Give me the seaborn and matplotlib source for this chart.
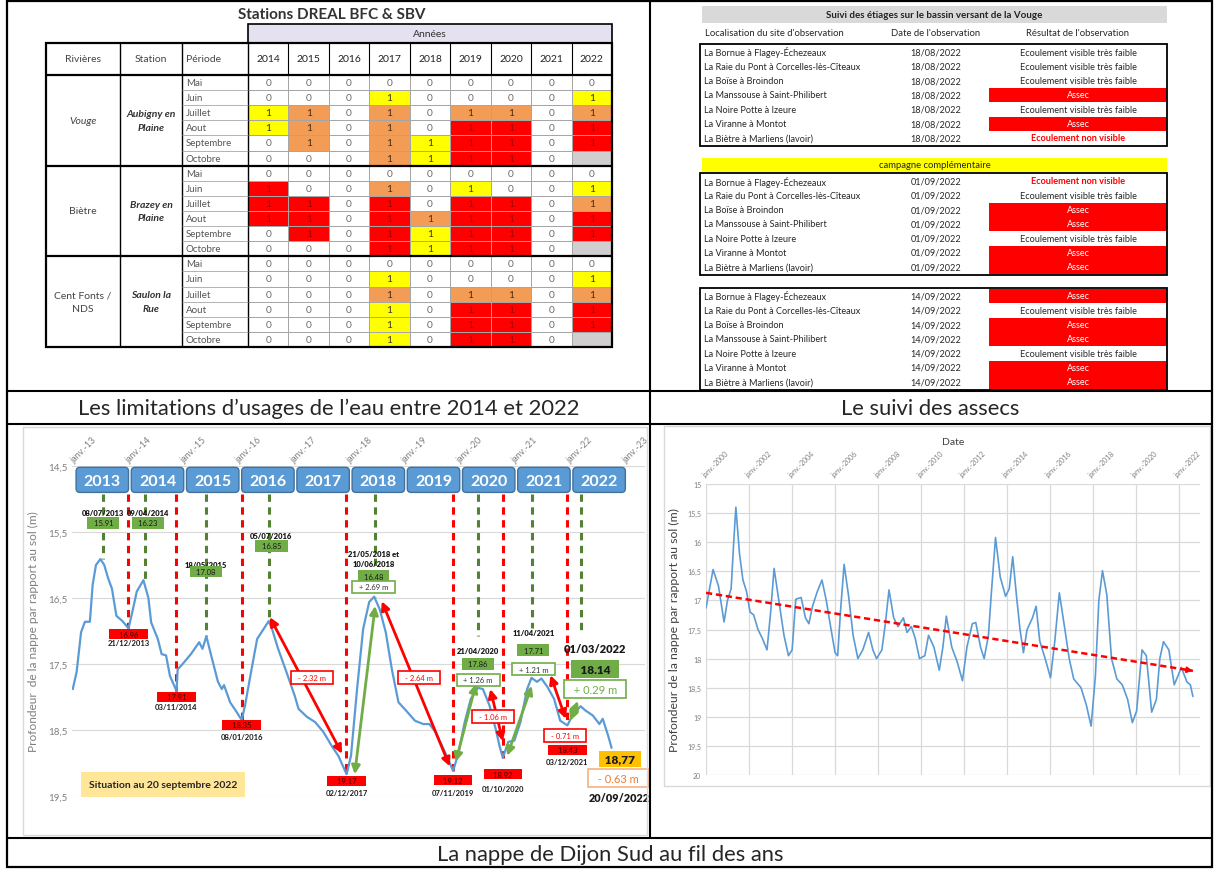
import numpy as np
import pandas as pd
import matplotlib
matplotlib.use("Agg")
import matplotlib.pyplot as plt
from matplotlib.colors import ListedColormap
from matplotlib.patches import Rectangle, FancyBboxPatch
import seaborn as sns

sns.set_style("white")
plt.rcParams["font.family"] = ["Lato", "DejaVu Sans"]

W, H = 1214, 870

# ---------------- tableau des limitations d'usage (haut gauche)
annees = [2014, 2015, 2016, 2017, 2018, 2019, 2020, 2021, 2022]
mois = ["Mai", "Juin", "Juillet", "Aout", "Septembre", "Octobre"]
rivieres = ["Vouge", "Biètre", "Cent Fonts /\nNDS"]
stations = ["Aubigny en\nPlaine", "Brazey en\nPlaine", "Saulon la\nRue"]
# 0 = pas de restriction, V = vigilance, A = alerte, C = crise, - = pas de donnée
niveaux_vouge = ["000000000", "000V0000V", "VA0A0AA0A", "VA0A0CC0C", "0A0AVCC0C", "000AVCC0-"]
niveaux_bietre = ["000000000", "C00A0V00V", "CC0C0CC0A", "CC0CACC0C", "0C0CVCC0C", "000CVCC0-"]
niveaux_centfonts = ["000000000", "000V0000V", "000A0AA0A", "000V0CC0C", "000V0CC0C", "000V0CC0-"]

# ---------------- suivi des assecs (haut droite)
sites = ["La Bornue à Flagey-Échezeaux", "La Raie du Pont à Corcelles-lès-Cîteaux",
         "La Boïse à Broindon", "La Manssouse à Saint-Philibert", "La Noire Potte à Izeure",
         "La Viranne à Montot", "La Biètre à Marliens (lavoir)"]
dates_campagnes = ["18/08/2022", "01/09/2022", "14/09/2022"]
# F = écoulement visible très faible, A = assec, N = écoulement non visible
resultats_1808 = ["F", "F", "F", "A", "F", "A", "N"]
resultats_0109 = ["N", "F", "A", "A", "F", "A", "A"]
resultats_1409 = ["A", "F", "A", "A", "F", "A", "A"]

# ---------------- nappe 2013-2022 (bas gauche), années décimales / profondeur (m)
nappe_annee = [2012.96, 2013.03, 2013.11, 2013.18, 2013.27, 2013.32, 2013.38, 2013.46, 2013.53,
               2013.6, 2013.67, 2013.75, 2013.86, 2013.97, 2014.05, 2014.12, 2014.24, 2014.33,
               2014.38, 2014.5, 2014.57, 2014.65, 2014.72, 2014.84, 2014.86, 2014.95, 2015.1,
               2015.25, 2015.31, 2015.38, 2015.47, 2015.59, 2015.66, 2015.7, 2015.81, 2015.93,
               2016.02, 2016.08, 2016.19, 2016.3, 2016.51, 2016.57, 2016.68, 2016.83, 2016.98,
               2017.05, 2017.2, 2017.35, 2017.5, 2017.65, 2017.77, 2017.92, 2018.0, 2018.11,
               2018.22, 2018.33, 2018.42, 2018.52, 2018.63, 2018.74, 2018.86, 2018.97, 2019.16,
               2019.31, 2019.42, 2019.53, 2019.65, 2019.76, 2019.85, 2019.95, 2020.06, 2020.17,
               2020.3, 2020.39, 2020.51, 2020.62, 2020.69, 2020.75, 2020.85, 2020.96, 2021.07,
               2021.19, 2021.27, 2021.37, 2021.45, 2021.56, 2021.68, 2021.79, 2021.92, 2022.01,
               2022.16, 2022.24, 2022.38, 2022.5, 2022.56, 2022.66, 2022.72]
nappe_prof = [17.88, 17.62, 17.02, 16.86, 16.86, 16.3, 16.0, 15.91, 16.0,
              16.2, 16.36, 16.77, 16.85, 16.96, 16.67, 16.4, 16.23, 16.5,
              16.87, 17.12, 17.35, 17.37, 17.68, 17.91, 17.58, 17.5, 17.35,
              17.17, 17.27, 17.08, 17.38, 17.77, 17.88, 17.82, 18.08, 18.23,
              18.35, 18.13, 17.62, 17.12, 16.85, 16.97, 17.27, 17.62, 17.98,
              18.18, 18.3, 18.38, 18.53, 18.74, 18.89, 19.17, 18.89, 17.88,
              16.97, 16.56, 16.48, 16.67, 17.02, 17.58, 18.08, 18.18, 18.36,
              18.41, 18.41, 18.53, 18.74, 18.94, 19.12, 18.84, 18.38, 18.03,
              17.86, 17.88, 18.13, 18.48, 18.74, 18.92, 18.68, 18.66, 18.38,
              17.88, 17.71, 17.77, 17.72, 17.85, 18.03, 18.36, 18.43, 18.28,
              18.14, 18.2, 18.28, 18.41, 18.33, 18.59, 18.77]

pics_dates = ["08/07/2013", "09/04/2014", "18/05/2015", "05/07/2016", "10/06/2018",
              "21/04/2020", "11/04/2021", "01/03/2022"]
pics_textes = ["08/07/2013", "09/04/2014", "18/05/2015", "05/07/2016", "21/05/2018 et\n10/06/2018",
               "21/04/2020", "11/04/2021", "01/03/2022"]
pics_vals = [15.91, 16.23, 17.08, 16.85, 16.48, 17.86, 17.71, 18.14]
creux_dates = ["21/12/2013", "03/11/2014", "08/01/2016", "02/12/2017", "07/11/2019",
               "01/10/2020", "03/12/2021"]
creux_vals = [16.96, 17.91, 18.35, 19.17, 19.12, 18.92, 18.43]
baisses = ["- 2.32 m", "- 2.64 m", "- 1.06 m", "- 0.71 m"]
hausses = ["+ 2.69 m", "+ 1.26 m", "+ 1.21 m", "+ 0.29 m"]
date_situation = "20/09/2022"
niveau_situation = "18,77"
ecart_situation = "- 0.63 m"

# ---------------- nappe 2000-2022 (bas droite)
suivi_annee = [2000.0, 2000.33, 2000.58, 2000.84, 2001.0, 2001.17, 2001.29, 2001.39, 2001.56,
               2001.72, 2001.89, 2002.05, 2002.22, 2002.42, 2002.62, 2002.84, 2003.01, 2003.17,
               2003.39, 2003.63, 2003.84, 2004.01, 2004.18, 2004.43, 2004.63, 2004.79, 2004.96,
               2005.18, 2005.4, 2005.6, 2005.8, 2006.01, 2006.13, 2006.26, 2006.43, 2006.63,
               2006.85, 2007.07, 2007.3, 2007.57, 2007.77, 2007.94, 2008.19, 2008.35, 2008.52,
               2008.74, 2008.94, 2009.19, 2009.36, 2009.56, 2009.74, 2009.94, 2010.19, 2010.36,
               2010.61, 2010.86, 2011.03, 2011.19, 2011.44, 2011.69, 2011.94, 2012.15, 2012.4,
               2012.56, 2012.78, 2012.95, 2013.15, 2013.28, 2013.48, 2013.7, 2013.95, 2014.12,
               2014.28, 2014.45, 2014.62, 2014.78, 2014.95, 2015.2, 2015.37, 2015.54, 2015.79,
               2016.04, 2016.24, 2016.45, 2016.71, 2016.91, 2017.12, 2017.46, 2017.71, 2017.93,
               2018.13, 2018.29, 2018.46, 2018.66, 2018.88, 2019.13, 2019.38, 2019.63, 2019.85,
               2020.05, 2020.3, 2020.5, 2020.75, 2020.97, 2021.13, 2021.3, 2021.55, 2021.8,
               2021.97, 2022.13, 2022.39, 2022.55, 2022.67]
suivi_prof = [17.13, 16.47, 16.75, 17.37, 17.0, 16.8, 16.0, 15.4, 16.2,
              16.65, 16.85, 17.2, 17.25, 17.5, 17.65, 17.85, 17.2, 16.45,
              17.0, 17.6, 17.95, 17.85, 16.98, 16.95, 17.3, 17.4, 17.1,
              16.85, 16.65, 17.0, 17.45, 17.9, 17.95, 17.2, 16.38, 16.9,
              17.6, 18.0, 17.85, 17.55, 17.85, 18.0, 17.85, 17.4, 16.82,
              17.3, 17.45, 17.3, 17.55, 17.45, 17.65, 18.0, 17.95, 17.6,
              17.8, 18.2, 17.8, 17.27, 17.8, 18.05, 18.38, 17.8, 17.4,
              17.38, 17.8, 18.0, 17.6, 16.9, 15.92, 16.6, 16.93, 16.8,
              16.25, 16.9, 17.5, 17.9, 17.5, 17.3, 17.1, 17.7, 18.0,
              18.33, 17.7, 16.87, 17.5, 18.0, 18.35, 18.5, 18.8, 19.16,
              18.3, 17.0, 16.49, 16.9, 18.0, 18.35, 18.45, 18.7, 19.1,
              18.9, 17.85, 17.95, 18.92, 18.7, 18.0, 17.71, 17.85, 18.45,
              18.3, 18.15, 18.4, 18.45, 18.65]
tendance_annee = [2000.0, 2022.67]
tendance_prof = [16.87, 18.21]


def annee_dec(s):
    d = pd.to_datetime(s, dayfirst=True)
    return d.year + (d.dayofyear - 1) / 365.25


def px_axes(x0, y0, x1, y1, **kw):
    return fig.add_axes([x0 / W, 1 - y1 / H, (x1 - x0) / W, (y1 - y0) / H], **kw)


fig = plt.figure(figsize=(W / 100, H / 100), dpi=100)

# ======================= heatmap des restrictions
codes = {"0": 0, "V": 1, "A": 2, "C": 3, "-": 4}
lignes = niveaux_vouge + niveaux_bietre + niveaux_centfonts
matrice = pd.DataFrame([[codes[c] for c in l] for l in lignes], columns=annees)
textes = np.array([["" if c == "-" else ("0" if c == "0" else "1") for c in l] for l in lignes])

x_tab0, x_sta, x_per, x_an, x_tab1 = 46, 120, 182, 248, 612
y_annees, y_entete, y_corps, y_fin = 25, 44, 76, 348
h_ligne = (y_fin - y_corps) / len(lignes)
l_col = (x_tab1 - x_an) / len(annees)

ax_hm = px_axes(x_an, y_corps, x_tab1, y_fin)
cmap = ListedColormap(["#FFFFFF", "#FFFF00", "#F39C56", "#FF0000", "#D0CECE"])
sns.heatmap(matrice, ax=ax_hm, cmap=cmap, vmin=-0.5, vmax=4.5, cbar=False,
            annot=textes, fmt="", linewidths=0.6, linecolor="#A6A6A6",
            annot_kws={"fontsize": 7.3})
ax_hm.set_xticks([])
ax_hm.set_yticks([])
ax_hm.set_xlabel("")
ax_hm.set_ylabel("")
couleurs_txt = {0: "#6b6b6b", 1: "#333333", 2: "#4a2a10", 3: "#A00000", 4: "#000000"}
for t, niv in zip(ax_hm.texts, matrice.values.ravel()):
    t.set_color(couleurs_txt[niv])

# ======================= nappe 2013-2022
ax_l = px_axes(72, 467, 645, 797)
sns.lineplot(x=nappe_annee, y=nappe_prof, ax=ax_l, color="#5B9BD5", lw=1.6,
             estimator=None, sort=False, zorder=3)
ax_l.set_xlim(2012.946, 2023.326)
ax_l.set_ylim(19.5, 14.5)
yt = [14.5, 15.5, 16.5, 17.5, 18.5, 19.5]
ax_l.set_yticks(yt)
ax_l.set_yticklabels([f"{v:.1f}".replace(".", ",") for v in yt])
ax_l.grid(axis="y", color="#D9D9D9", lw=0.8)
ax_l.set_axisbelow(True)
ax_l.xaxis.tick_top()
ans = list(range(2013, 2024))
ax_l.set_xticks(ans)
ax_l.set_xticklabels([f"janv.-{a % 100:02d}" for a in ans], rotation=45, ha="left",
                     rotation_mode="anchor", va="bottom")
ax_l.tick_params(axis="both", length=0, colors="#7F7F7F")
ax_l.tick_params(axis="x", labelsize=6.5, pad=1.5)
ax_l.tick_params(axis="y", labelsize=7)
for s in ax_l.spines.values():
    s.set_visible(False)
ax_l.set_ylabel("Profondeur  de la nappe par rapport au sol (m)", fontsize=8.6, color="#7F7F7F",
                labelpad=6)

# boîtes des années
asp = 55.2 / 66
for a in range(2013, 2023):
    ax_l.add_patch(FancyBboxPatch((a + 0.02, 14.52), 0.95, 0.38,
                                  boxstyle="round,pad=0,rounding_size=0.07", mutation_aspect=asp,
                                  fc="#5B9BD5", ec="#41719C", lw=1, zorder=4, clip_on=False))
    ax_l.text(a + 0.495, 14.72, str(a), ha="center", va="center", color="white",
              fontsize=11.5, fontweight="bold", zorder=5)

pics_x = [annee_dec(d) for d in pics_dates]
creux_x = [annee_dec(d) for d in creux_dates]
haut_tirets = 14.92
fin_tirets_verts = [15.91, 16.23, 17.08, 16.85, 16.48, 17.08, 16.95, 17.05]
for x, fin in zip(pics_x, fin_tirets_verts):
    ax_l.plot([x, x], [haut_tirets, fin], color="#548235", lw=2.2, dashes=(2.4, 1.8), zorder=2)
for x, v in zip(creux_x, creux_vals):
    ax_l.plot([x, x], [haut_tirets, v], color="#FF0000", lw=2.2, dashes=(2.4, 1.8), zorder=2)

# étiquettes des maxima
pic_dx = [0, 0.05, 0, 0.05, -0.03, 0, 0.03, 0.26]
pic_date_y = [15.2, 15.2, 16.0, 15.56, 15.9, 17.3, 17.03, 17.26]
pic_box_y = [15.36, 15.36, 16.1, 15.71, 16.17, 17.5, 17.29, 17.58]
hausse_y = [16.33, 17.74, 17.58, 17.88]
for i, (x, v, t) in enumerate(zip(pics_x, pics_vals, pics_textes)):
    grand = i == len(pics_x) - 1
    ax_l.text(x + pic_dx[i], pic_date_y[i], t, ha="center", va="center",
              fontsize=8 if grand else 5.5, fontweight="heavy", color="#1a1a1a", zorder=6,
              linespacing=1.5)
    ax_l.text(x + pic_dx[i], pic_box_y[i], f"  {v:.2f}  ", ha="center", va="center",
              fontsize=8.5 if grand else 5.5, fontweight="heavy" if grand else "normal",
              color="#1a1a1a", zorder=6,
              bbox=dict(boxstyle="square,pad=0.3", fc="#70AD47", ec="none"))
for k in range(4):
    i = 4 + k
    grand = k == 3
    ax_l.text(pics_x[i] + pic_dx[i], hausse_y[k], f"  {hausses[k]}  ", ha="center", va="center",
              fontsize=8 if grand else 5.5, color="#70AD47" if grand else "#333333", zorder=6,
              bbox=dict(boxstyle="square,pad=0.35", fc="white", ec="#70AD47", lw=1.2))

# étiquettes des minima
creux_box_y = [17.05, 18.0, 18.42, 19.27, 19.26, 19.17, 18.8]
creux_date_y = [17.17, 18.15, 18.6, 19.45, 19.44, 19.38, 18.98]
for x, v, d, yb, yd in zip(creux_x, creux_vals, creux_dates, creux_box_y, creux_date_y):
    ax_l.text(x, yb, f"    {v:.2f}    ", ha="center", va="center", fontsize=5.5,
              color="#3a0000", zorder=6, bbox=dict(boxstyle="square,pad=0.2", fc="#FF0000", ec="none"))
    ax_l.text(x, yd, d, ha="center", va="center", fontsize=5.5, fontweight="bold",
              color="#1a1a1a", zorder=6, clip_on=False)

# flèches de baisse (pic -> creux) et de hausse (creux -> pic suivant)
decal_baisse = [((0.02, -0.06), (-0.08, -0.31)), ((0.12, 0.07), (-0.06, -0.07)),
                ((0.22, 0.02), (0.0, -0.25)), ((0.34, -0.04), (-0.03, -0.1))]
decal_hausse = [((0.15, 0.0), (0.0, 0.14)), ((0.05, -0.14), (-0.04, -0.06)),
                ((0.08, -0.03), (0.0, 0.12)), ((0.05, -0.07), (-0.05, -0.08))]
baisse_pos = [(2017.29, 17.7), (2019.23, 17.71), (2020.57, 18.29), (2021.88, 18.58)]
for k in range(4):
    p, c = 3 + k, 3 + k
    (dxs, dys), (dxe, dye) = decal_baisse[k]
    ax_l.annotate("", xy=(creux_x[c] + dxe, creux_vals[c] + dye),
                  xytext=(pics_x[p] + dxs, pics_vals[p] + dys),
                  arrowprops=dict(arrowstyle="<|-|>,head_length=0.5,head_width=0.25",
                                  color="#FF0000", lw=2, mutation_scale=10,
                                  shrinkA=0, shrinkB=0), zorder=5)
    ax_l.text(*baisse_pos[k], f"  {baisses[k]}  ", ha="center", va="center", fontsize=5.5,
              color="#FF0000", zorder=6,
              bbox=dict(boxstyle="square,pad=0.4", fc="white", ec="#FF0000", lw=1.2))
    (dxs, dys), (dxe, dye) = decal_hausse[k]
    ax_l.annotate("", xy=(pics_x[p + 1] + dxe, pics_vals[p + 1] + dye),
                  xytext=(creux_x[c] + dxs, creux_vals[c] + dys),
                  arrowprops=dict(arrowstyle="<|-|>,head_length=0.5,head_width=0.25",
                                  color="#70AD47", lw=2, mutation_scale=10,
                                  shrinkA=0, shrinkB=0), zorder=5)

x_sit = annee_dec(date_situation) + 0.15
ax_l.text(x_sit, 18.94, f" {niveau_situation} ", ha="center", va="center", fontsize=8.5,
          fontweight="heavy", color="#1a1a1a", zorder=6,
          bbox=dict(boxstyle="square,pad=0.25", fc="#FFC000", ec="none"))
ax_l.text(x_sit - 0.03, 19.23, f"  {ecart_situation}  ", ha="center", va="center", fontsize=8,
          color="#ED7D31", zorder=6, clip_on=False,
          bbox=dict(boxstyle="square,pad=0.3", fc="white", ec="#F4B183", lw=1.2))
ax_l.text(x_sit, 19.52, date_situation, ha="center", va="center", fontsize=7.8,
          fontweight="heavy", color="#1a1a1a", zorder=6, clip_on=False)
ax_l.text(2014.6, 19.33, "Situation au 20 septembre 2022", ha="center", va="center",
          fontsize=7.5, fontweight="bold", color="#262626", zorder=6,
          bbox=dict(boxstyle="square,pad=0.75", fc="#FFE699", ec="none"))

# ======================= nappe 2000-2022
ax_r = px_axes(706, 485, 1200, 776)
sns.lineplot(x=suivi_annee, y=suivi_prof, ax=ax_r, color="#5B9BD5", lw=1.2,
             estimator=None, sort=False, zorder=3)
sns.lineplot(x=tendance_annee, y=tendance_prof, ax=ax_r, color="#FF0000", lw=1.8,
             estimator=None, sort=False, zorder=4)
ax_r.lines[-1].set_dashes((2.5, 1.5))
pente = (tendance_prof[1] - tendance_prof[0]) / (tendance_annee[1] - tendance_annee[0])
ax_r.annotate("", xy=(tendance_annee[-1], tendance_prof[-1]),
              xytext=(tendance_annee[-1] - 0.4, tendance_prof[-1] - 0.4 * pente),
              arrowprops=dict(arrowstyle="-|>", color="#FF0000", lw=1.2, mutation_scale=9,
                              shrinkA=0, shrinkB=0), zorder=4)
ax_r.set_xlim(2000, 2023)
ax_r.set_ylim(20, 15)
xt = list(range(2000, 2023, 2))
ax_r.set_xticks(xt)
ax_r.xaxis.tick_top()
ax_r.set_xticklabels([f"janv.-{a}" for a in xt], rotation=45, ha="left",
                     rotation_mode="anchor", va="bottom")
yt_r = [15, 15.5, 16, 16.5, 17, 17.5, 18, 18.5, 19, 19.5, 20]
ax_r.set_yticks(yt_r)
ax_r.set_yticklabels([f"{v:g}".replace(".", ",") for v in yt_r])
ax_r.tick_params(axis="both", length=0, colors="#7F7F7F", labelsize=5)
ax_r.tick_params(axis="x", pad=4)
ax_r.grid(True, color="#D9D9D9", lw=0.9)
ax_r.set_axisbelow(True)
for s in ax_r.spines.values():
    s.set_visible(False)
ax_r.xaxis.set_label_position("top")
ax_r.set_xlabel("Date", fontsize=7.5, color="#404040", labelpad=4)
ax_r.set_ylabel("Profondeur de la nappe par rapport au sol (m)", fontsize=8.8,
                color="#404040", labelpad=5)

# ======================= calque : cadres, textes des tableaux, légendes
ov = fig.add_axes([0, 0, 1, 1], zorder=10)
ov.set_xlim(0, W)
ov.set_ylim(H, 0)
ov.axis("off")
ov.patch.set_alpha(0)


def trait(x0, y0, x1, y1, c="black", lw=1.5, z=3):
    ov.plot([x0, x1], [y0, y1], color=c, lw=lw, solid_capstyle="butt", zorder=z)


# cadre général
ov.add_patch(Rectangle((7, 2), 1205, 866, fill=False, ec="black", lw=1.6, zorder=3))
trait(650, 2, 650, 839)
trait(7, 392, 1212, 392)
trait(7, 425, 1212, 425)
trait(7, 839, 1212, 839)
ov.text(329, 409, "Les limitations d’usages de l’eau entre 2014 et 2022", ha="center",
        va="center", fontsize=15.8)
ov.text(930, 409, "Le suivi des assecs", ha="center", va="center", fontsize=15.8)
ov.text(610, 855, "La nappe de Dijon Sud au fil des ans", ha="center", va="center", fontsize=15.8)
ov.add_patch(Rectangle((23, 428), 624, 408, fill=False, ec="#D9D9D9", lw=1, zorder=1))
ov.add_patch(Rectangle((664, 427), 546, 360, fill=False, ec="#D9D9D9", lw=1, zorder=1))

# tableau des limitations : entêtes et colonnes de gauche
ov.text(332, 15, "Stations DREAL BFC & SBV", ha="center", va="center", fontsize=11,
        fontweight="bold", color="#333333")
ov.add_patch(Rectangle((x_an, y_annees), x_tab1 - x_an, y_entete - y_annees, fc="#E6E1F0",
                       ec="black", lw=1.2, zorder=2))
ov.text((x_an + x_tab1) / 2, (y_annees + y_entete) / 2, "Années", ha="center", va="center",
        fontsize=7.5, color="#333333")
ov.add_patch(Rectangle((x_tab0, y_entete), x_tab1 - x_tab0, y_fin - y_entete, fill=False,
                       ec="black", lw=1.6, zorder=3))
for x in (x_sta, x_per, x_an):
    trait(x, y_entete, x, y_fin, lw=1)
for k in range(1, len(annees)):
    trait(x_an + k * l_col, y_entete, x_an + k * l_col, y_corps, lw=0.8)
y_ent_c = (y_entete + y_corps) / 2
for x, t in zip(((x_tab0 + x_sta) / 2, (x_sta + x_per) / 2), ("Rivières", "Station")):
    ov.text(x, y_ent_c, t, ha="center", va="center", fontsize=7.5, color="#444444")
ov.text(x_per + 4, y_ent_c, "Période", ha="left", va="center", fontsize=7.5, color="#444444")
for k, a in enumerate(annees):
    ov.text(x_an + (k + 0.5) * l_col, y_ent_c, str(a), ha="center", va="center", fontsize=7.5,
            color="#222222")
for g in range(3):
    y0 = y_corps + g * len(mois) * h_ligne
    trait(x_tab0, y0, x_tab1, y0, lw=1.6)
    yc = y0 + len(mois) * h_ligne / 2
    ov.text((x_tab0 + x_sta) / 2, yc, rivieres[g], ha="center", va="center", fontsize=7.5,
            color="#444444", style="italic" if g == 0 else "normal", linespacing=1.7)
    ov.text((x_sta + x_per) / 2, yc, stations[g], ha="center", va="center", fontsize=7.5,
            color="#333333", style="italic", fontweight="bold", linespacing=1.7)
    for m, nom in enumerate(mois):
        ym = y0 + (m + 0.5) * h_ligne
        ov.text(x_per + 4, ym, nom, ha="left", va="center", fontsize=7, color="#555555")
        if m > 0:
            trait(x_per, y0 + m * h_ligne, x_an, y0 + m * h_ligne, c="#A6A6A6", lw=0.6)

# tableau des assecs
xr0, xr1, x_res = 702, 1167, 989
ov.add_patch(Rectangle((xr0, 7), xr1 - xr0, 17, fc="#D9D9D9", ec="none", zorder=1))
ov.text((xr0 + xr1) / 2, 15.5, "Suivi des étiages sur le bassin versant de la Vouge",
        ha="center", va="center", fontsize=7, fontweight="bold", color="#222222")
ov.text(xr0 + 3, 33, "Localisation du site d'observation", ha="left", va="center", fontsize=6.8,
        color="#262626")
ov.text(936, 33, "Date de l'observation", ha="center", va="center", fontsize=6.8, color="#262626")
ov.text(1078, 33, "Résultat de l'observation", ha="center", va="center", fontsize=6.8,
        color="#262626")
ov.add_patch(Rectangle((xr0, 159), xr1 - xr0, 14, fc="#FFFF00", ec="none", zorder=1))
ov.text((xr0 + xr1) / 2, 166, "campagne complémentaire", ha="center", va="center",
        fontsize=6.8, color="#262626")
libelles = {"F": "Ecoulement visible très faible", "A": "Assec", "N": "Ecoulement non visible"}
pas = 14.3
for premiere, date, res in zip((53, 182, 297), dates_campagnes,
                               (resultats_1808, resultats_0109, resultats_1409)):
    ov.add_patch(Rectangle((xr0 - 2, premiere - 8), xr1 - xr0 + 2, 6 * pas + 16, fill=False,
                           ec="black", lw=1.3, zorder=3))
    for i, (site, r) in enumerate(zip(sites, res)):
        y = premiere + i * pas
        ov.text(xr0 + 2, y, site, ha="left", va="center", fontsize=6.6, color="#262626")
        ov.text(936, y, date, ha="center", va="center", fontsize=6.6, color="#262626")
        if r == "A":
            ov.add_patch(Rectangle((x_res, y - 7), xr1 - x_res, 14, fc="#FF0000", ec="none",
                                   zorder=1))
            ov.text(1078, y, libelles[r], ha="center", va="center", fontsize=6.6, color="white")
        elif r == "N":
            ov.text(1078, y, libelles[r], ha="center", va="center", fontsize=6.6,
                    color="#FF0000", fontweight="bold")
        else:
            ov.text(1078, y, libelles[r], ha="center", va="center", fontsize=6.6, color="#262626")

fig.savefig("out.png", dpi=100)
